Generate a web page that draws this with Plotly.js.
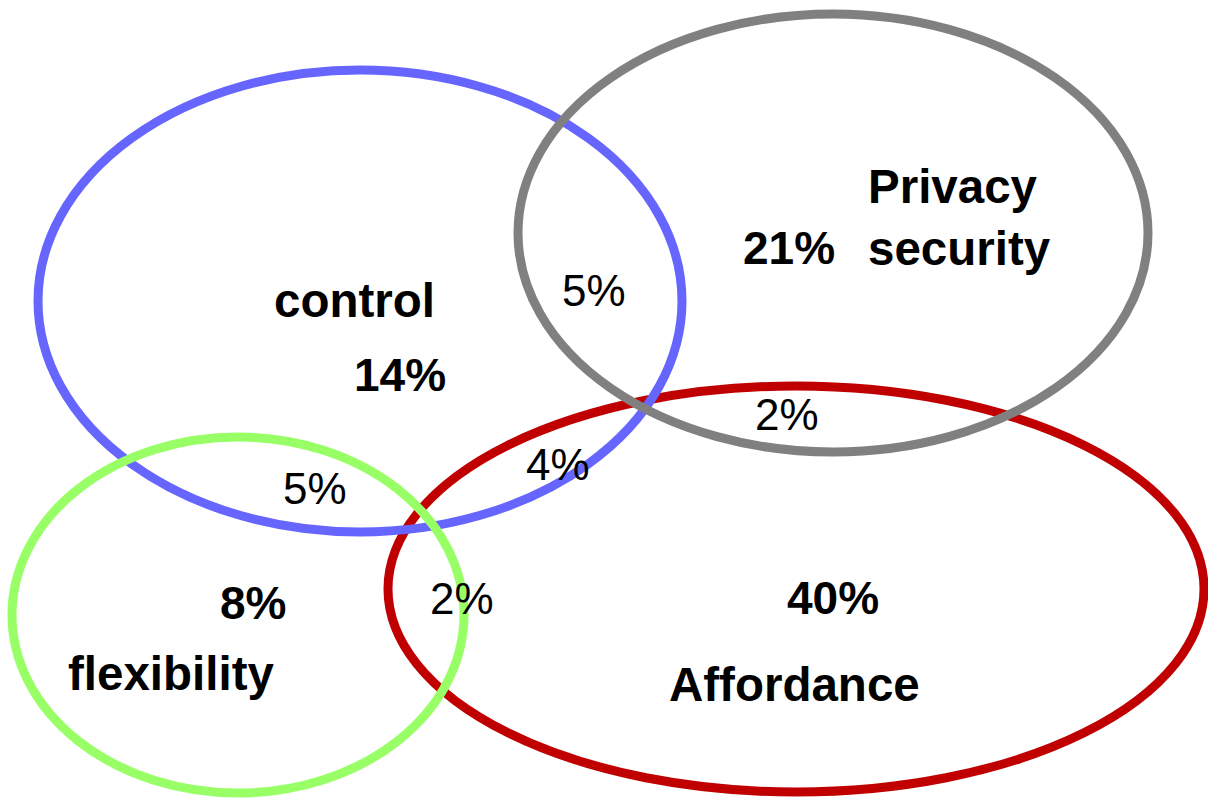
<!DOCTYPE html>
<html>
<head>
<meta charset="utf-8">
<script src="https://cdn.plot.ly/plotly-3.0.1.min.js"></script>
<style>html,body{margin:0;padding:0;background:#fff;}#chart{width:1208px;height:798px;}</style>
</head>
<body>
<div id="chart"></div>
<script>
// ---- data ----
const setNames = ['control', 'Privacy<br>security', 'flexibility', 'Affordance'];
const setOnlyPct = [14, 21, 8, 40];
const overlapNames = ['control∩Privacy security', 'Privacy security∩Affordance', 'control∩Affordance', 'control∩flexibility', 'flexibility∩Affordance'];
const overlapPct = [5, 2, 4, 5, 2];

// ---- layout geometry (pixel-space axes) ----
const W = 1208, H = 798;
const ellipses = [ // drawing order
  {set: 3, cx: 796, cy: 589, rx: 408, ry: 203, color: '#C00000'},
  {set: 0, cx: 360, cy: 301, rx: 322, ry: 231, color: '#6666FF'},
  {set: 1, cx: 833, cy: 233, rx: 315, ry: 219, color: '#808080'},
  {set: 2, cx: 238, cy: 615, rx: 226, ry: 178, color: '#99FF66'}
];
const namePos = [[354, 300, 'center'], [866, 217, 'left'], [171, 673, 'center'], [794, 684, 'center']];
const onlyPos = [[400, 375], [789, 248], [253, 603], [833, 598]];
const overlapPos = [[594, 290], [787, 414], [558, 464], [315, 488], [462, 598]];

const fontFam = '"Liberation Sans", Arial, sans-serif';
const shapes = ellipses.map(e => ({
  type: 'circle', xref: 'x', yref: 'y',
  x0: e.cx - e.rx, x1: e.cx + e.rx, y0: e.cy - e.ry, y1: e.cy + e.ry,
  line: {color: e.color, width: 9}, fillcolor: 'rgba(0,0,0,0)', layer: 'above'
}));

const annotations = [];
setNames.forEach((n, i) => {
  annotations.push({x: namePos[i][0], y: namePos[i][1], xref: 'x', yref: 'y', text: n,
    showarrow: false, xanchor: namePos[i][2], yanchor: 'middle', align: 'left',
    font: {family: fontFam, size: 47.5, color: '#000', weight: 'bold'}});
  annotations.push({x: onlyPos[i][0], y: onlyPos[i][1], xref: 'x', yref: 'y', text: setOnlyPct[i] + '%',
    showarrow: false, xanchor: 'center', yanchor: 'middle',
    font: {family: fontFam, size: 46, color: '#000', weight: 'bold'}});
});
overlapPct.forEach((v, i) => {
  annotations.push({x: overlapPos[i][0], y: overlapPos[i][1], xref: 'x', yref: 'y', text: v + '%',
    showarrow: false, xanchor: 'center', yanchor: 'middle',
    font: {family: fontFam, size: 44, color: '#000'}});
});

const layout = {
  width: W, height: H,
  margin: {l: 0, r: 0, t: 0, b: 0, pad: 0},
  paper_bgcolor: '#fff', plot_bgcolor: '#fff',
  showlegend: false,
  xaxis: {range: [0, W], visible: false, fixedrange: true},
  yaxis: {range: [H, 0], visible: false, fixedrange: true},
  shapes: shapes,
  annotations: annotations
};
Plotly.newPlot('chart', [{x: [], y: [], type: 'scatter', mode: 'markers', hoverinfo: 'skip'}], layout, {staticPlot: true, displayModeBar: false});
</script>
</body>
</html>
